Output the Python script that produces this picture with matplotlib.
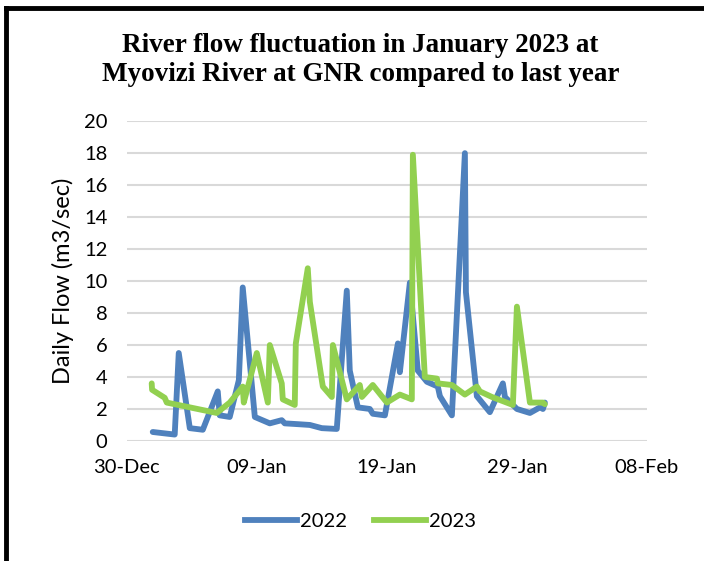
import datetime as dt
import matplotlib.pyplot as plt
import matplotlib.dates as mdates
from matplotlib.lines import Line2D

# days counted from 30-Dec
days_2022 = [2.0, 3.69, 4.0, 4.85, 5.85, 7.0, 7.15, 7.92, 8.62, 8.92, 9.85, 11.0, 11.92,
             12.15, 13.15, 14.08, 15.0, 16.15, 16.92, 17.15, 17.77, 18.69, 18.92, 19.85,
             20.85, 21.0, 21.77, 22.38, 23.08, 23.92, 24.08, 25.0, 26.0, 26.08, 26.92,
             27.92, 28.92, 29.08, 30.0, 31.0, 31.77, 32.0, 32.15]
flow_2022 = [0.56, 0.4, 5.5, 0.8, 0.7, 3.1, 1.6, 1.5, 3.8, 9.6, 1.5, 1.1, 1.3,
             1.1, 1.05, 1.0, 0.8, 0.75, 9.4, 4.4, 2.1, 2.0, 1.7, 1.6,
             6.1, 4.3, 9.9, 4.4, 3.7, 3.4, 2.8, 1.6, 18.0, 9.3, 2.8,
             1.8, 3.6, 2.75, 2.0, 1.75, 2.1, 2.0, 2.4]

days_2023 = [1.92, 1.95, 2.92, 3.08, 6.92, 7.92, 8.92, 9.0, 10.0, 10.85, 11.0, 11.92,
             12.0, 12.92, 13.0, 13.92, 14.08, 15.0, 15.08, 15.77, 15.85, 16.92, 17.92,
             18.08, 18.92, 20.0, 21.0, 21.92, 22.0, 22.92, 23.85, 23.92, 25.0, 26.0,
             26.92, 27.15, 28.08, 29.69, 30.0, 31.0, 32.0, 32.15]
flow_2023 = [3.6, 3.2, 2.7, 2.4, 1.75, 2.4, 3.4, 2.4, 5.5, 2.4, 6.0, 3.6,
             2.6, 2.25, 6.1, 10.8, 8.7, 3.8, 3.4, 2.75, 6.0, 2.6, 3.5,
             2.75, 3.5, 2.4, 2.9, 2.6, 17.9, 4.0, 3.9, 3.6, 3.5, 2.9,
             3.4, 3.1, 2.75, 2.25, 8.4, 2.4, 2.4, 2.3]

base = mdates.date2num(dt.datetime(2022, 12, 30))
x22 = [base + d for d in days_2022]
x23 = [base + d for d in days_2023]

tick_font = 'Lato'
blue = '#4F81BD'
green = '#92D050'

fig = plt.figure(figsize=(7.04, 5.61), dpi=100)
ax = fig.add_axes([0.180, 0.214, 0.739, 0.570])

ax.plot(x22, flow_2022, color=blue, lw=4.2, solid_joinstyle='round', solid_capstyle='round', zorder=3)
ax.plot(x23, flow_2023, color=green, lw=4.2, solid_joinstyle='round', solid_capstyle='round', zorder=4)

ax.set_ylim(0, 20)
ax.set_yticks(range(0, 21, 2))
ax.set_xlim(base, base + 40)
ax.set_xticks([base + 10 * i for i in range(5)])
ax.xaxis.set_major_formatter(mdates.DateFormatter('%d-%b'))
ax.grid(axis='y', color='#D9D9D9', lw=1.5)
ax.set_axisbelow(True)
for s in ax.spines.values():
    s.set_visible(False)
ax.tick_params(axis='y', length=0, labelsize=14.5, pad=14)
ax.tick_params(axis='x', length=0, labelsize=14.5, pad=13)
for lab in ax.get_xticklabels() + ax.get_yticklabels():
    lab.set_fontfamily(tick_font)
ax.set_ylabel('Daily Flow (m3/sec)', fontsize=17, fontfamily=tick_font, labelpad=7)

fig.text(0.512, 0.893, 'River flow fluctuation in January 2023 at\nMyovizi River at GNR compared to last year',
         ha='center', va='center', fontsize=19.5, fontweight='bold',
         fontfamily='Liberation Serif', linespacing=1.2)

handles = [Line2D([], [], color=blue, lw=4.2), Line2D([], [], color=green, lw=4.2)]
fig.legend(handles, ['2022', '2023'], loc='center', bbox_to_anchor=(0.512, 0.07), ncol=2,
           frameon=False, handlelength=2.6, handletextpad=0.15, columnspacing=1.3,
           prop={'family': tick_font, 'size': 14.5})

# chart frame (top and left edges visible)
fig.add_artist(Line2D([0.008, 1.0], [0.986, 0.986], color='black', lw=3.5, transform=fig.transFigure))
fig.add_artist(Line2D([0.008, 0.008], [0.0, 0.986], color='black', lw=3.5, transform=fig.transFigure))

fig.savefig('out.png', dpi=100)
